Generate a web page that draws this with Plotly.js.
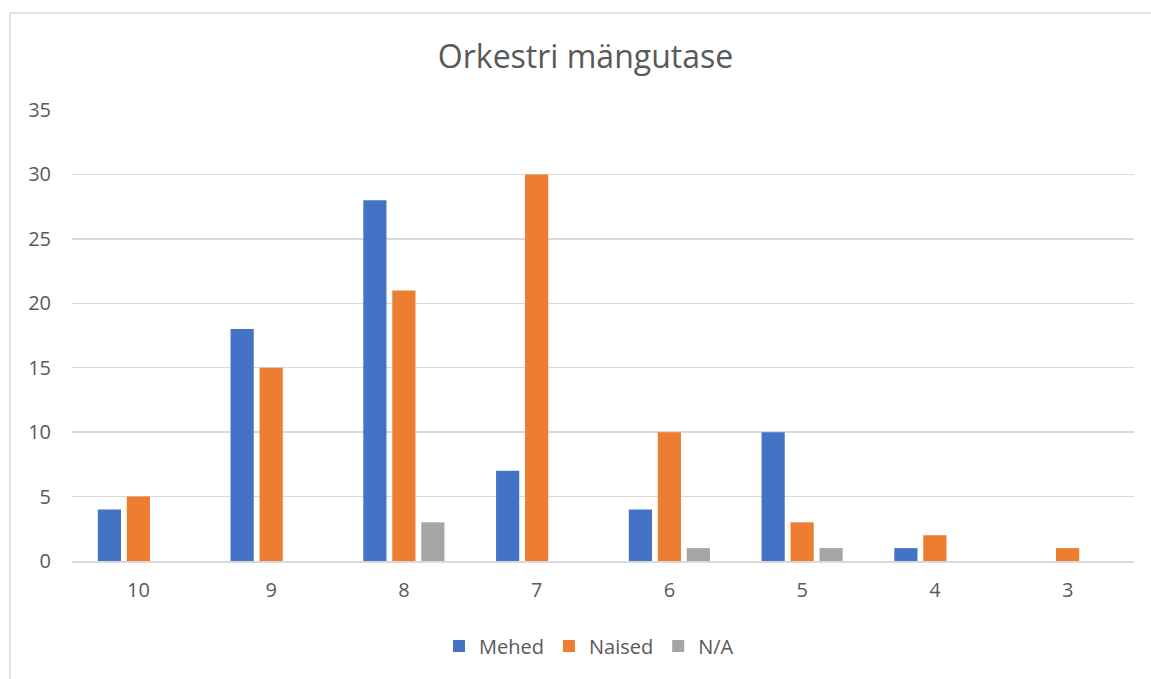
<!DOCTYPE html>
<html>
<head>
<meta charset="utf-8">
<script src="https://cdn.plot.ly/plotly-3.0.1.min.js"></script>
<style>
html, body { margin: 0; padding: 0; background: #ffffff; }
#chart { width: 1151px; height: 679px; }
</style>
</head>
<body>
<div id="chart"></div>
<script>
const categories = ["10", "9", "8", "7", "6", "5", "4", "3"];
const mehed  = [4, 18, 28, 7, 4, 10, 1, 0];
const naised = [5, 15, 21, 30, 10, 3, 2, 1];
const na     = [0, 0, 3, 0, 1, 1, 0, 0];
const seriesNames = ["Mehed", "Naised", "N/A"];
const yTicks = [0, 5, 10, 15, 20, 25, 30, 35];

const colors = ["#4472C4", "#ED7D31", "#A5A5A5"];
const textColor = "#595959";
const fontFamily = "'Open Sans', 'Noto Sans', 'DejaVu Sans', sans-serif";

const traces = [mehed, naised, na].map((vals, i) => ({
  type: "bar",
  name: seriesNames[i],
  x: categories,
  y: vals,
  marker: { color: colors[i], line: { width: 0 } },
  hoverinfo: "x+y+name"
}));

const layout = {
  width: 1151,
  height: 679,
  paper_bgcolor: "#ffffff",
  plot_bgcolor: "#ffffff",
  margin: { l: 72, r: 17, t: 110, b: 118 },
  title: {
    text: "Orkestri mängutase",
    font: { family: fontFamily, size: 32, color: textColor },
    xref: "container",
    x: 585.5 / 1151, xanchor: "center",
    y: 1 - 57 / 679, yanchor: "middle"
  },
  barmode: "group",
  bargap: 0.345,
  bargroupgap: 0.2,
  xaxis: {
    type: "category",
    showgrid: false,
    showline: true,
    linecolor: "#D9D9D9",
    linewidth: 1.5,
    ticks: "",
    ticklabelstandoff: 10,
    tickfont: { family: fontFamily, size: 20, color: textColor },
    fixedrange: true
  },
  yaxis: {
    range: [0, 35],
    tickvals: yTicks,
    showgrid: true,
    gridcolor: "#D9D9D9",
    gridwidth: 1.5,
    zeroline: false,
    showline: false,
    ticks: "",
    ticklabelstandoff: 20,
    tickfont: { family: fontFamily, size: 20, color: textColor },
    fixedrange: true
  },
  legend: {
    orientation: "h",
    x: (589 - 72) / 1062, xanchor: "center",
    y: -(646 - 561) / 451, yanchor: "middle",
    font: { family: fontFamily, size: 20, color: textColor },
    itemwidth: 30,
    traceorder: "normal"
  },
  shapes: [{
    type: "rect",
    xref: "paper", yref: "paper",
    x0: (10 - 72) / 1062, x1: 1.2,
    y0: -0.4, y1: (561 - 13) / 451,
    line: { color: "#D9D9D9", width: 1.5 },
    fillcolor: "rgba(0,0,0,0)",
    layer: "below"
  }]
};

Plotly.newPlot("chart", traces, layout, { displayModeBar: false, staticPlot: true });
</script>
</body>
</html>
